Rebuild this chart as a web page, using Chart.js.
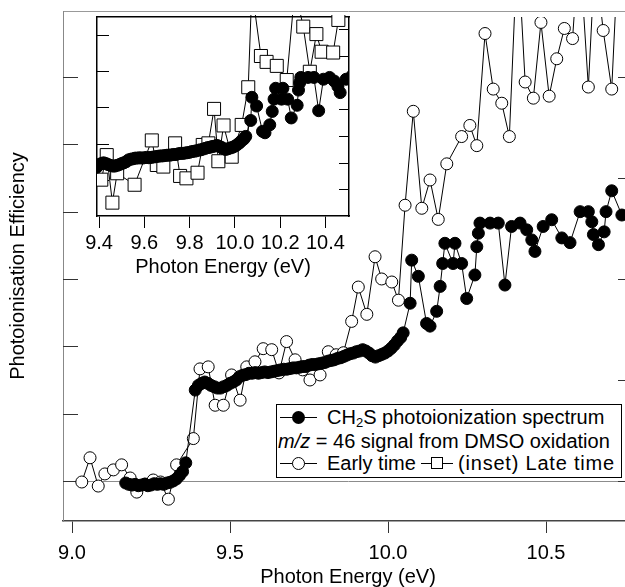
<!DOCTYPE html>
<html>
<head>
<meta charset="utf-8">
<script src="https://cdn.jsdelivr.net/npm/chart.js@4/dist/chart.umd.min.js"></script>
<style>
  html, body { margin: 0; padding: 0; background: #fff; overflow: hidden; }
  #wrap { position: relative; width: 625px; height: 587px; overflow: hidden; font-family: "Liberation Sans", Arial, Helvetica, sans-serif; }
  #main, #inset { position: absolute; left: 0; top: 0; }
  #legend { position: absolute; left: 276px; top: 404px; width: 344px; height: 72px; border: 1px solid #000; background: #fff; color: #000; font-size: 20px; }
  #legend .row { position: absolute; left: 0; width: 100%; height: 24px; }
  #legend .txt { position: absolute; top: 0; line-height: 24px; white-space: nowrap; }
  #legend .txt sub { font-size: 13px; vertical-align: -3px; line-height: 0; }
  #legend .smp { position: absolute; left: 3px; top: 12px; width: 37px; height: 1px; background: #000; }
  #legend .mk { position: absolute; left: 12px; top: -6px; width: 13px; height: 13px; box-sizing: border-box; }
  #legend .dot { background: #000; border-radius: 50%; }
  #legend .ring { background: #fff; border: 1px solid #000; border-radius: 50%; }
  #legend .box { background: #fff; border: 1px solid #000; left: 10px; width: 12px; height: 12px; }
</style>
</head>
<body>
<div id="wrap">
  <canvas id="main" width="640" height="587"></canvas>
  <canvas id="inset" width="360" height="290"></canvas>
  <div id="legend">
    <div class="row" style="top:0px"><span class="smp"><span class="mk dot"></span></span><span class="txt" style="left:50px">CH<sub>2</sub>S photoionization spectrum</span></div>
    <div class="row" style="top:24px"><span class="txt" style="left:1px"><i>m/z</i> = 46 signal from DMSO oxidation</span></div>
    <div class="row" style="top:46px"><span class="smp"><span class="mk ring"></span></span><span class="txt" style="left:50px">Early time</span><span class="smp" style="left:144px;width:32px"><span class="mk box"></span></span><span class="txt" style="left:181px;letter-spacing:0.8px">(inset) Late time</span></div>
  </div>
</div>
<script>
// CH2S photoionization spectrum (left axis, also the inset's left axis)
var ch2sEnergy = [
  9.17, 9.18, 9.19, 9.20, 9.21, 9.22, 9.23, 9.24, 9.25, 9.26,
  9.27, 9.28, 9.29, 9.30, 9.31, 9.32, 9.33, 9.34, 9.35, 9.36,
  9.39, 9.40, 9.41, 9.42, 9.43, 9.44, 9.45, 9.46, 9.47, 9.48,
  9.49, 9.50, 9.51, 9.52, 9.53, 9.54, 9.55, 9.56, 9.57, 9.58,
  9.59, 9.60, 9.61, 9.62, 9.63, 9.64, 9.65, 9.66, 9.67, 9.68,
  9.69, 9.70, 9.71, 9.72, 9.73, 9.74, 9.75, 9.76, 9.77, 9.78,
  9.79, 9.80, 9.81, 9.82, 9.83, 9.84, 9.85, 9.86, 9.87, 9.88,
  9.89, 9.90, 9.91, 9.92, 9.93, 9.94, 9.95, 9.96, 9.97, 9.98,
  9.99, 10.00, 10.01, 10.02, 10.03, 10.04, 10.048,
  10.070, 10.075, 10.096, 10.122, 10.133, 10.154, 10.165, 10.173, 10.180, 10.206,
  10.212, 10.233, 10.249, 10.275, 10.281, 10.286, 10.291, 10.323, 10.349, 10.370,
  10.391, 10.418, 10.439, 10.455, 10.465, 10.491, 10.518, 10.550, 10.576, 10.608,
  10.634, 10.645, 10.650, 10.666, 10.684, 10.690, 10.708, 10.740
];
var ch2sSignal = [
  -0.03, -0.05, -0.06, -0.05, -0.07, -0.06, -0.05, -0.07, -0.06, -0.04,
  -0.05, -0.04, -0.05, -0.03, -0.02, 0.00, 0.03, 0.08, 0.14, 0.27,
  1.35, 1.42, 1.45, 1.47, 1.45, 1.42, 1.40, 1.38, 1.38, 1.40,
  1.42, 1.45, 1.47, 1.50, 1.55, 1.57, 1.58, 1.60, 1.60, 1.61,
  1.60, 1.61, 1.62, 1.61, 1.62, 1.63, 1.64, 1.65, 1.66, 1.66,
  1.67, 1.68, 1.68, 1.69, 1.70, 1.70, 1.72, 1.73, 1.73, 1.74,
  1.75, 1.76, 1.78, 1.79, 1.80, 1.82, 1.83, 1.85, 1.87, 1.89,
  1.90, 1.92, 1.93, 1.95, 1.93, 1.90, 1.86, 1.84, 1.86, 1.88,
  1.90, 1.93, 1.97, 2.02, 2.08, 2.13, 2.20,
  2.64, 3.28, 3.04, 2.34, 2.30, 2.52, 2.89, 3.23, 3.53, 3.23,
  3.53, 3.23, 2.71, 3.06, 3.48, 3.68, 3.83, 3.83, 3.83, 2.91,
  3.78, 3.83, 3.73, 3.58, 3.41, 3.78, 3.88, 3.61, 3.54, 4.00,
  4.00, 3.85, 3.66, 3.51, 3.70, 4.00, 4.31, 3.95
];

// m/z = 46, early time (right axis of the main plot)
var earlyEnergy = [
  9.031, 9.057, 9.083, 9.104, 9.131, 9.157, 9.184, 9.205, 9.231, 9.257,
  9.280, 9.305, 9.331, 9.384, 9.405, 9.431, 9.453, 9.479, 9.505, 9.532,
  9.553, 9.579, 9.605, 9.632, 9.655, 9.679, 9.706, 9.730, 9.753, 9.785,
  9.811, 9.836, 9.859, 9.885, 9.906, 9.933, 9.959, 9.980, 10.012, 10.033,
  10.054, 10.080, 10.107, 10.133, 10.159, 10.186, 10.233, 10.259, 10.281, 10.307,
  10.333, 10.360, 10.384, 10.410, 10.434, 10.460, 10.484, 10.510, 10.534, 10.558,
  10.584, 10.605, 10.634, 10.655, 10.681, 10.708, 10.730
];
var earlySignal = [
  -0.01, 0.23, -0.05, 0.07, 0.11, 0.16, 0.03, -0.11, -0.03, 0.01,
  -0.01, -0.18, 0.16, 0.42, 1.11, 1.13, 0.75, 0.75, 1.05, 0.80,
  1.13, 1.18, 1.31, 1.30, 1.07, 1.38, 1.20, 1.10, 1.00, 1.05,
  1.28, 1.25, 1.27, 1.58, 1.92, 1.65, 2.22, 2.00, 1.97, 1.79,
  2.73, 3.66, 2.70, 2.98, 2.59, 3.14, 3.41, 3.52, 3.32, 4.43,
  3.88, 3.74, 3.41, 5.33, 3.95, 3.79, 4.54, 3.81, 4.18, 4.48,
  4.38, 5.33, 3.90, 5.20, 4.46, 3.88, 5.33
];

// m/z = 46, late time (inset, right axis)
var lateEnergy = [
  9.410, 9.434, 9.459, 9.480, 9.557, 9.633, 9.655, 9.684, 9.736, 9.758,
  9.786, 9.835, 9.858, 9.883, 9.908, 9.927, 9.950, 9.986, 10.030, 10.059,
  10.075, 10.115, 10.140, 10.185, 10.229, 10.265, 10.302, 10.331, 10.360, 10.383,
  10.434, 10.457
];
var lateSignal = [
  1.36, 2.28, 0.50, 1.60, 1.17, 2.83, 1.91, 1.85, 2.72, 1.50,
  1.41, 1.62, 2.66, 2.72, 4.01, 2.05, 3.39, 2.22, 3.41, 4.82,
  8.50, 5.99, 5.77, 5.62, 5.09, 8.50, 7.09, 5.40, 6.81, 6.15,
  6.12, 7.34
];

// tick positions
var mainTicksX = [9.0, 9.5, 10.0, 10.5];
var mainTicksY = [0, 1, 2, 3, 4, 5, 6];
var earlyTicksY = [0, 1, 2, 3, 4];
var insetTicksX = [9.4, 9.6, 9.8, 10.0, 10.2, 10.4];
var insetTicksCh2s = [1, 2, 3, 4, 5];
var insetTicksLate = [1, 2, 3, 4, 5, 6, 7];

var FONT = '"Liberation Sans", Arial, Helvetica, sans-serif';
Chart.defaults.font.family = FONT;
Chart.defaults.color = '#000';

function points(xs, ys) {
  return xs.map(function(x, i) { return {x: x, y: ys[i]}; });
}
function fixTicks(values) {
  return function(scale) {
    scale.ticks = values.map(function(v) { return {value: v}; });
  };
}

// short tick marks drawn inward from the frame
var innerTicks = {
  id: 'innerTicks',
  beforeDatasetsDraw: function(chart, args, opts) {
    var ctx = chart.ctx;
    var area = chart.chartArea;
    (opts.axes || []).forEach(function(a) {
      var scale = chart.scales[a.id];
      ctx.save();
      ctx.strokeStyle = a.color;
      ctx.lineWidth = 1;
      scale.ticks.forEach(function(t) {
        var y = Math.round(scale.getPixelForValue(t.value)) + 0.5;
        var x0 = a.side === 'left' ? area.left : area.right;
        var x1 = a.side === 'left' ? area.left + a.length : area.right - a.length;
        ctx.beginPath();
        ctx.moveTo(x0, y);
        ctx.lineTo(x1, y);
        ctx.stroke();
      });
      ctx.restore();
    });
  }
};

var hidden = {display: false};

new Chart(document.getElementById('main'), {
  type: 'scatter',
  data: {
    datasets: [{
      label: 'CH2S photoionization spectrum',
      data: points(ch2sEnergy, ch2sSignal),
      yAxisID: 'y',
      showLine: true,
      borderColor: '#000',
      borderWidth: 1,
      pointRadius: 6,
      pointBackgroundColor: '#000',
      pointBorderColor: '#000',
      pointBorderWidth: 1,
      clip: {left: 8, top: -6, right: 8, bottom: 8},
      order: 1
    }, {
      label: 'Early time',
      data: points(earlyEnergy, earlySignal),
      yAxisID: 'y2',
      showLine: true,
      borderColor: '#000',
      borderWidth: 1,
      pointRadius: 6,
      pointBackgroundColor: '#fff',
      pointBorderColor: '#000',
      pointBorderWidth: 1,
      clip: {left: 8, top: -6, right: 8, bottom: 8},
      order: 2
    }]
  },
  options: {
    responsive: false,
    animation: false,
    events: [],
    layout: {padding: 0},
    plugins: {
      legend: hidden,
      tooltip: {enabled: false},
      innerTicks: {axes: [
        {id: 'y', side: 'left', length: 15, color: '#333'},
        {id: 'y2', side: 'right', length: 15, color: '#333'}
      ]}
    },
    scales: {
      x: {
        type: 'linear', position: 'bottom', min: 8.9715, max: 10.7753,
        afterBuildTicks: fixTicks(mainTicksX),
        afterFit: function(s) { s.height = 66; },
        ticks: {autoSkip: false, maxRotation: 0, padding: 8, color: '#000', font: {size: 20},
                callback: function(v) { return v.toFixed(1); }},
        grid: {drawOnChartArea: false, drawTicks: true, tickLength: 12, color: '#333', lineWidth: 1},
        border: {display: true, color: '#444', width: 1.5},
        title: {display: true, text: 'Photon Energy (eV)', color: '#000',
                font: {size: 20, lineHeight: 1}, padding: {top: 0, bottom: 0}}
      },
      xTop: {
        type: 'linear', position: 'top', min: 8.9715, max: 10.7753,
        afterFit: function(s) { s.height = 11; },
        ticks: hidden,
        grid: {drawOnChartArea: false, drawTicks: false},
        border: {display: true, color: '#999', width: 1}
      },
      y: {
        type: 'linear', position: 'left', min: -0.594, max: 6.98,
        afterBuildTicks: fixTicks(mainTicksY),
        afterFit: function(s) { s.width = 63; },
        ticks: hidden,
        grid: {drawTicks: false, lineWidth: 1,
               color: function(c) { return (c.tick && c.tick.value === 0) ? '#8c8c8c' : 'rgba(0,0,0,0)'; }},
        border: {display: true, color: '#888', width: 1},
        title: {display: true, text: 'Photoionisation Efficiency', color: '#000',
                font: {size: 20, lineHeight: 1}, padding: {top: 8, bottom: 0}}
      },
      y2: {
        type: 'linear', position: 'right', min: -0.396, max: 4.653,
        afterBuildTicks: fixTicks(earlyTicksY),
        afterFit: function(s) { s.width = 7; },
        ticks: hidden,
        grid: {drawOnChartArea: false, drawTicks: false},
        border: {display: false}
      }
    }
  },
  plugins: [innerTicks]
});

// inset: CH2S against late-time signal, 9.4 - 10.5 eV
new Chart(document.getElementById('inset'), {
  type: 'scatter',
  data: {
    datasets: [{
      label: 'CH2S photoionization spectrum',
      data: points(ch2sEnergy, ch2sSignal),
      yAxisID: 'yL',
      showLine: true,
      borderColor: '#000',
      borderWidth: 1,
      pointRadius: 6,
      pointBackgroundColor: '#000',
      pointBorderColor: '#000',
      pointBorderWidth: 1,
      clip: {left: 0, top: 1, right: 0, bottom: 0},
      order: 1
    }, {
      label: '(inset) Late time',
      data: points(lateEnergy, lateSignal),
      yAxisID: 'yR',
      showLine: true,
      borderColor: '#000',
      borderWidth: 1,
      pointStyle: 'rect',
      pointRadius: 9.2,
      pointBackgroundColor: '#fff',
      pointBorderColor: '#000',
      pointBorderWidth: 1,
      clip: {left: 0, top: 2, right: 0, bottom: 0},
      order: 2
    }]
  },
  options: {
    responsive: false,
    animation: false,
    events: [],
    layout: {padding: 0},
    plugins: {
      legend: hidden,
      tooltip: {enabled: false},
      innerTicks: {axes: [
        {id: 'yL', side: 'left', length: 12, color: '#000'},
        {id: 'yR', side: 'right', length: 10, color: '#000'}
      ]}
    },
    scales: {
      x: {
        type: 'linear', position: 'bottom', min: 9.391, max: 10.504,
        afterBuildTicks: fixTicks(insetTicksX),
        afterFit: function(s) { s.height = 74; },
        ticks: {autoSkip: false, maxRotation: 0, padding: 3, color: '#000', font: {size: 20},
                callback: function(v) { return v.toFixed(1); }},
        grid: {drawOnChartArea: false, drawTicks: true, tickLength: 12, color: '#000', lineWidth: 1},
        border: {display: true, color: '#000', width: 1.5},
        title: {display: true, text: 'Photon Energy (eV)', color: '#000',
                font: {size: 20, lineHeight: 1}, padding: {top: 0, bottom: 13}}
      },
      xTop: {
        type: 'linear', position: 'top', min: 9.391, max: 10.504,
        afterFit: function(s) { s.height = 17; },
        ticks: hidden,
        grid: {drawOnChartArea: false, drawTicks: false},
        border: {display: true, color: '#000', width: 1.5}
      },
      yL: {
        type: 'linear', position: 'left', min: 0, max: 5.5,
        afterBuildTicks: fixTicks(insetTicksCh2s),
        afterFit: function(s) { s.width = 97; },
        ticks: hidden,
        grid: {drawOnChartArea: false, drawTicks: false},
        border: {display: true, color: '#000', width: 1.5}
      },
      yR: {
        type: 'linear', position: 'right', min: 0, max: 7.45,
        afterBuildTicks: fixTicks(insetTicksLate),
        afterFit: function(s) { s.width = 11; },
        ticks: hidden,
        grid: {drawOnChartArea: false, drawTicks: false},
        border: {display: true, color: '#000', width: 1.5}
      }
    }
  },
  plugins: [innerTicks]
});
</script>
</body>
</html>
